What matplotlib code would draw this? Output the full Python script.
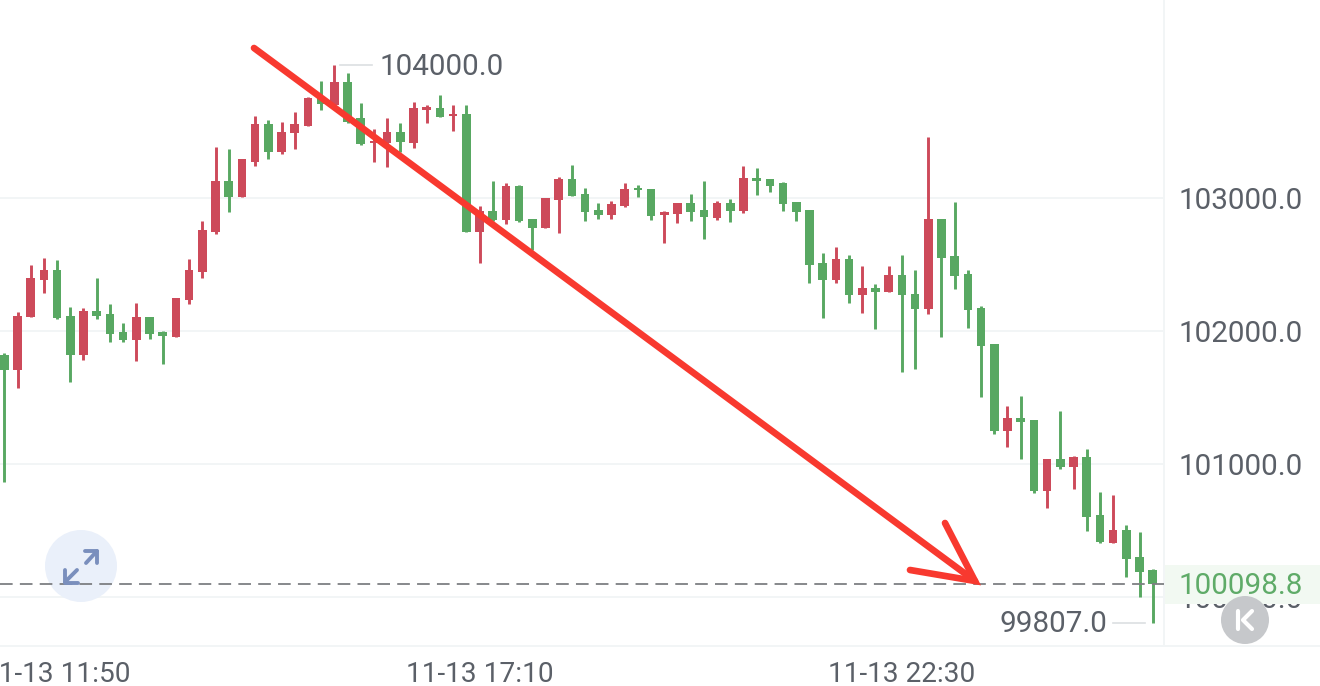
import numpy as np
import matplotlib
matplotlib.use("Agg")
import matplotlib.pyplot as plt
from matplotlib.patches import Circle, Rectangle
from matplotlib.transforms import IdentityTransform

plt.rcParams['font.family'] = ['Roboto', 'DejaVu Sans']

opens = [101820,101707,102105,102384,102459,102113,101820,102151,102128,101993,
         101932,102105,101993,101955,102233,102444,102745,103128,103008,103271,
         103557,103346,103489,103542,103760,103700,103872,103602,103414,103414,
         103496,103414,103662,103677,103617,103632,102745,102902,102835,103090,
         102842,102775,102985,103143,103030,102910,102872,102940,103075,103068,
         102872,102880,102963,102910,102850,102963,102902,103151,103143,103113,
         102970,102910,102512,102384,102542,102271,102323,102293,102421,102278,
         102166,102842,102564,102429,102173,101902,101248,101346,101331,100797,
         101038,100977,101053,100617,100406,100504,100301,100203]
closes = [101707,102113,102399,102459,102098,101820,102151,102113,101978,101932,
          102105,101978,101963,102248,102459,102760,103128,103008,103293,103557,
          103346,103496,103557,103752,103707,103872,103572,103406,103429,103496,
          103421,103677,103684,103609,103632,102745,102902,102835,103090,102827,
          102775,103000,103143,103015,102895,102872,102955,103068,103060,102865,
          102895,102963,102895,102857,102963,102902,103151,103128,103090,102955,
          102895,102497,102384,102542,102271,102323,102293,102421,102271,102166,
          102842,102549,102414,102158,101887,101248,101346,101316,100797,101038,
          100977,101053,100602,100414,100504,100286,100188,100098.8]
highs = [101835,102143,102497,102549,102534,102181,102173,102399,102203,102060,
         102211,102105,102000,102248,102542,102827,103384,103369,103293,103617,
         103587,103572,103647,103760,103880,104000,103940,103714,103519,103602,
         103564,103722,103700,103775,103700,103700,102940,103128,103113,103098,
         102842,103000,103158,103248,103075,102963,102978,103113,103098,103068,
         102902,102963,103030,103128,102978,102993,103241,103226,103143,103120,
         102970,102910,102587,102632,102572,102489,102354,102489,102572,102459,
         103459,102842,102970,102459,102188,101902,101436,101511,101331,101038,
         101399,101060,101113,100790,100767,100542,100489,100211]
lows = [100865,101572,102105,102286,102090,101617,101782,102090,101917,101917,
        101775,101940,101752,101955,102203,102399,102730,102895,103008,103241,
        103293,103331,103369,103542,103662,103700,103564,103399,103271,103233,
        103346,103376,103564,103609,103504,102745,102512,102827,102805,102820,
        102609,102775,102737,103015,102827,102842,102842,102933,103008,102835,
        102662,102812,102827,102692,102835,102820,102887,103023,103045,102902,
        102827,102361,102098,102361,102211,102135,102015,102293,101692,101715,
        102128,101955,102316,102023,101504,101226,101128,101038,100782,100669,
        100962,100812,100497,100406,100406,100150,100000,99807]
y_ticks = [100000, 101000, 102000, 103000]
x_tick_index = [4, 36, 68]
x_tick_labels = ['11-13 11:50', '11-13 17:10', '11-13 22:30']
last_price = closes[-1]

W, H = 1320, 686
RED, GREEN = '#cd4a5a', '#58a862'
TEXT = '#5b6068'
LIGHT = '#f2f5f6'

fig = plt.figure(figsize=(W / 100, H / 100), dpi=100, facecolor='white')
ax = fig.add_axes([0, (H - 646) / H, 1164 / W, 646 / H])
opens_a, closes_a = np.array(opens), np.array(closes)
highs_a, lows_a = np.array(highs), np.array(lows)
idx = np.arange(len(opens))
colors = [RED if c >= o else GREEN for o, c in zip(opens, closes)]

ax.vlines(idx, lows_a, highs_a, colors=colors, linewidth=2.1, zorder=3)
ax.bar(idx, np.abs(closes_a - opens_a), bottom=np.minimum(opens_a, closes_a),
       width=0.66, color=colors, zorder=3)
# expand button sits under the dashed last-price line
ax.add_patch(Circle((81, H - 566), 36, color='#eaf0fa', lw=0, zorder=3.5,
                    transform=IdentityTransform(), clip_on=False))
ax.axhline(last_price, color='#7d7f82', lw=1.3, dashes=(7, 4), zorder=4)

ax.set_xlim(-4.3 / 13.2, (1164 - 4.3) / 13.2)
ax.set_ylim(103000 - 448 * 1000 / 133, 103000 + 198 * 1000 / 133)
ax.set_yticks(y_ticks)
ax.set_yticklabels([f'{t:.1f}' for t in y_ticks])
ax.set_xticks(x_tick_index)
ax.set_xticklabels(x_tick_labels)
ax.yaxis.tick_right()
ax.tick_params(axis='y', length=0, pad=100, labelsize=21.3, labelcolor=TEXT)
ax.tick_params(axis='x', length=0, pad=10.5, labelsize=20.2, labelcolor=TEXT)
for lab in ax.get_yticklabels():
    lab.set_ha('right')
ax.grid(axis='y', color=LIGHT, lw=1.4, zorder=0)
ax.set_axisbelow(True)
for s in ['top', 'left', 'bottom']:
    ax.spines[s].set_visible(False)
ax.spines['right'].set_color(LIGHT)
ax.spines['right'].set_linewidth(1.4)

# overlay in screen pixels for the app's decorations
ov = fig.add_axes([0, 0, 1, 1], zorder=5)
ov.set_xlim(0, W)
ov.set_ylim(H, 0)
ov.axis('off')
ov.patch.set_alpha(0)

ov.plot([0, W], [646, 646], color=LIGHT, lw=1.4)

# last-price tag
ov.add_patch(Rectangle((1165, 565), W - 1165, 39, color='#f2f9f2', lw=0))
ov.text(1303, 586, f'{last_price:.1f}', color='#5fab68', fontsize=21.3, ha='right', va='center')

# high / low markers
ov.plot([340, 372], [65, 65], color='#dcdfe2', lw=1.2)
ov.text(379, 67, f'{max(highs):.1f}', color=TEXT, fontsize=21.3, ha='left', va='center')
ov.plot([1113, 1145], [623, 623], color='#dcdfe2', lw=1.2)
ov.text(1107, 624, f'{min(lows):.1f}', color=TEXT, fontsize=21.3, ha='right', va='center')

# expand icon
BLUE = '#7a8fbd'
ov.plot([86, 97], [563, 551], color=BLUE, lw=2.8, solid_capstyle='round')
ov.plot([85, 97, 97], [551, 551, 563], color=BLUE, lw=2.8, solid_capstyle='round')
ov.plot([65, 77], [582, 570], color=BLUE, lw=2.8, solid_capstyle='round')
ov.plot([65, 65, 78], [570, 583, 583], color=BLUE, lw=2.8, solid_capstyle='round')

# collapse button
ov.add_patch(Circle((1245, 620), 24, color='#c6c8cb', lw=0, zorder=2))
ov.plot([1238, 1238], [611, 629], color='white', lw=3, zorder=3, solid_capstyle='round')
ov.plot([1252, 1243, 1252], [611, 620, 629], color='white', lw=3, zorder=3, solid_capstyle='round')

# hand-drawn red arrow
ARROW = '#f8392f'
ov.plot([254, 975], [48, 581], color=ARROW, lw=4.8, solid_capstyle='round', zorder=6)
ov.plot([945, 975, 910], [523, 581, 570], color=ARROW, lw=4.8, solid_capstyle='round',
        solid_joinstyle='miter', zorder=6)

fig.savefig('out.png', dpi=100)
